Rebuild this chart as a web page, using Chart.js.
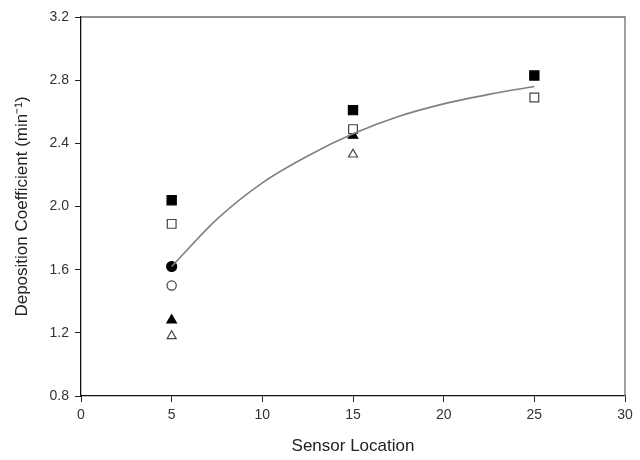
<!DOCTYPE html>
<html>
<head>
<meta charset="utf-8">
<script src="https://cdn.jsdelivr.net/npm/chart.js@4/dist/chart.umd.min.js"></script>
<style>
  html, body { margin: 0; padding: 0; background: #fff; }
  #wrap { width: 640px; height: 460px; }
</style>
</head>
<body>
<div id="wrap"><canvas id="chart" width="640" height="460"></canvas></div>
<script>
'use strict';

// values
var xTicks = [0, 5, 10, 15, 20, 25, 30];
var yTicks = [0.8, 1.2, 1.6, 2.0, 2.4, 2.8, 3.2];

var filledSquareX = [5, 15, 25];
var filledSquareY = [2.04, 2.61, 2.83];
var openSquareX = [5, 15, 25];
var openSquareY = [1.89, 2.49, 2.69];
var filledCircleX = [5];
var filledCircleY = [1.62];
var openCircleX = [5];
var openCircleY = [1.50];
var filledTriangleX = [5, 15];
var filledTriangleY = [1.28, 2.45];
var openTriangleX = [5, 15];
var openTriangleY = [1.18, 2.33];

// fitted curve, traced at a few spots
var curveX = [5, 7.5, 10, 12.5, 15, 17.5, 20, 22.5, 25];
var curveY = [1.62, 1.92, 2.15, 2.32, 2.46, 2.57, 2.65, 2.71, 2.76];

function toPoints(xs, ys) {
  var pts = [];
  for (var i = 0; i < xs.length; i++) {
    pts.push({ x: xs[i], y: ys[i] });
  }
  return pts;
}

function markerSet(label, xs, ys, style, filled, radius) {
  return {
    label: label,
    type: 'scatter',
    data: toPoints(xs, ys),
    pointStyle: style,
    pointRadius: radius,
    pointHoverRadius: radius,
    pointBackgroundColor: filled ? '#000' : '#fff',
    pointBorderColor: filled ? '#000' : '#444',
    pointBorderWidth: 1.2,
    showLine: false
  };
}

// top and right frame lines
var framePlugin = {
  id: 'frame',
  afterDatasetsDraw: function (chart) {
    var a = chart.chartArea;
    var ctx = chart.ctx;
    ctx.save();
    ctx.strokeStyle = '#6e6e6e';
    ctx.lineWidth = 1.3;
    ctx.beginPath();
    ctx.moveTo(a.left, a.top);
    ctx.lineTo(a.right, a.top);
    ctx.lineTo(a.right, a.bottom);
    ctx.stroke();
    ctx.restore();
  }
};

var ctx = document.getElementById('chart').getContext('2d');

new Chart(ctx, {
  type: 'scatter',
  data: {
    datasets: [
      {
        label: 'Fit',
        type: 'line',
        data: toPoints(curveX, curveY),
        borderColor: '#808080',
        borderWidth: 1.6,
        pointRadius: 0,
        fill: false,
        cubicInterpolationMode: 'monotone'
      },
      markerSet('Filled square', filledSquareX, filledSquareY, 'rect', true, 6.5),
      markerSet('Open square', openSquareX, openSquareY, 'rect', false, 6.2),
      markerSet('Filled circle', filledCircleX, filledCircleY, 'circle', true, 5),
      markerSet('Open circle', openCircleX, openCircleY, 'circle', false, 4.6),
      markerSet('Filled triangle', filledTriangleX, filledTriangleY, 'triangle', true, 5.5),
      markerSet('Open triangle', openTriangleX, openTriangleY, 'triangle', false, 5.2)
    ]
  },
  options: {
    responsive: false,
    animation: false,
    devicePixelRatio: 1,
    layout: { padding: { top: 17, right: 15, left: 0, bottom: 0 } },
    plugins: {
      legend: { display: false },
      tooltip: { enabled: false }
    },
    scales: {
      x: {
        type: 'linear',
        min: 0,
        max: 30,
        afterBuildTicks: function (axis) {
          axis.ticks = xTicks.map(function (v) { return { value: v }; });
        },
        afterFit: function (axis) { axis.height = 64; },
        grid: {
          drawOnChartArea: false,
          drawTicks: true,
          tickLength: 6,
          color: '#222'
        },
        border: { display: true, color: '#111', width: 1.3 },
        ticks: {
          color: '#333',
          padding: 5,
          font: { family: 'Liberation Sans', size: 14 },
          maxRotation: 0
        },
        title: {
          display: true,
          text: 'Sensor Location',
          color: '#222',
          padding: { top: 10, bottom: 3 },
          font: { family: 'Liberation Sans', size: 17 }
        }
      },
      y: {
        type: 'linear',
        min: 0.8,
        max: 3.2,
        afterBuildTicks: function (axis) {
          axis.ticks = yTicks.map(function (v) { return { value: v }; });
        },
        afterFit: function (axis) { axis.width = 81; },
        grid: {
          drawOnChartArea: false,
          drawTicks: true,
          tickLength: 6,
          color: '#222'
        },
        border: { display: true, color: '#111', width: 1.3 },
        ticks: {
          color: '#333',
          padding: 6,
          font: { family: 'Liberation Sans', size: 14 },
          callback: function (v) { return v.toFixed(1); }
        },
        title: {
          display: true,
          text: 'Deposition Coefficient (min\u207B\u00B9)',
          color: '#222',
          padding: { top: 12, bottom: 4 },
          font: { family: 'Liberation Sans', size: 17 }
        }
      }
    }
  },
  plugins: [framePlugin]
});
</script>
</body>
</html>
